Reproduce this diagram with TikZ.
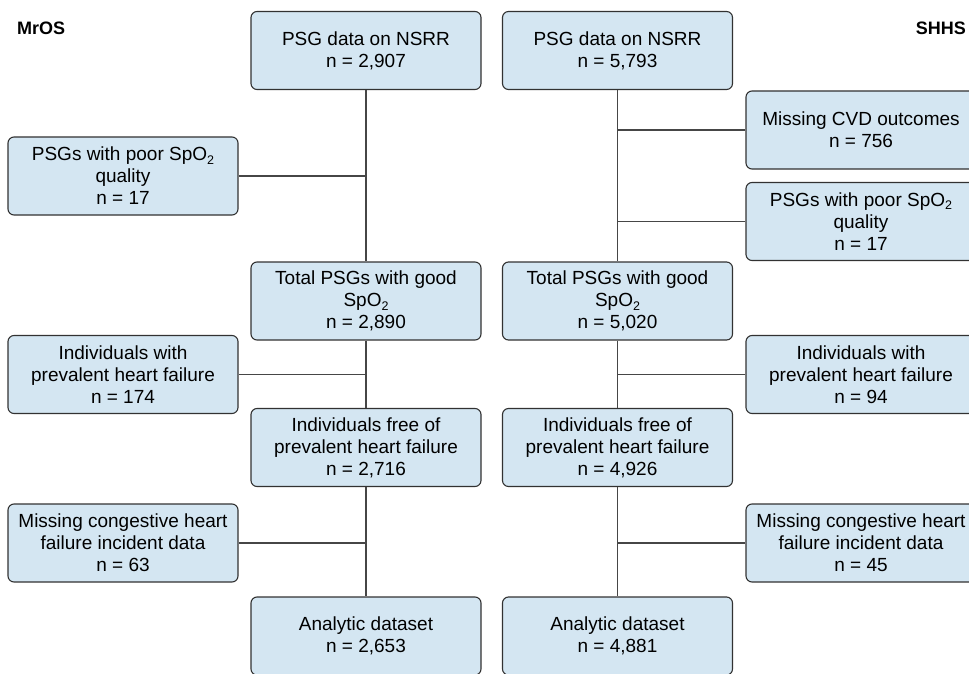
\documentclass[tikz,border=0pt]{standalone}
\usepackage{fontspec}
\setmainfont{Liberation Sans}
\definecolor{boxfill}{RGB}{212,230,242}
\definecolor{boxline}{RGB}{50,50,50}
\definecolor{conline}{RGB}{70,70,70}
\newcommand{\spo}{SpO\raisebox{-0.35ex}{\fontsize{12.5}{12.5}\selectfont 2}}
\tikzset{
  flowbox/.style={rectangle, rounded corners=6pt, draw=boxline, line width=1.1pt,
    fill=boxfill, minimum width=230pt, minimum height=78pt, inner sep=0pt,
    align=center, font=\fontsize{19}{22}\selectfont},
  conn/.style={draw=conline, line width=1.1pt},
  title/.style={font=\fontsize{18}{22}\selectfont\bfseries, inner sep=0pt}
}
\begin{document}
\begin{tikzpicture}[x=1pt,y=-1pt]
\useasboundingbox (0,0) rectangle (969,674);
\clip (0,0) rectangle (969,674);
\node[title, anchor=west] (mros) at (17,28) {MrOS};
\node[title, anchor=east] (shhs) at (966,28) {SHHS};
% left column
\node[flowbox] (l1) at (366,50.5) {PSG data on NSRR\\n = 2,907};
\node[flowbox] (l2) at (366,301) {Total PSGs with good\\\spo\\n = 2,890};
\node[flowbox] (l3) at (366,447.5) {Individuals free of\\prevalent heart failure\\n = 2,716};
\node[flowbox] (l4) at (366,636) {Analytic dataset\\n = 2,653};
\node[flowbox] (ls1) at (123,176) {PSGs with poor \spo\\quality\\n = 17};
\node[flowbox] (ls2) at (123,374.5) {Individuals with\\prevalent heart failure\\n = 174};
\node[flowbox] (ls3) at (123,543) {Missing congestive heart\\failure incident data\\n = 63};
% right column
\node[flowbox] (r1) at (617.5,50.5) {PSG data on NSRR\\n = 5,793};
\node[flowbox] (r2) at (617.5,301) {Total PSGs with good\\\spo\\n = 5,020};
\node[flowbox] (r3) at (617.5,447.5) {Individuals free of\\prevalent heart failure\\n = 4,926};
\node[flowbox] (r4) at (617.5,636) {Analytic dataset\\n = 4,881};
\node[flowbox] (rs1) at (861,130) {Missing CVD outcomes\\n = 756};
\node[flowbox] (rs2) at (861,221.5) {PSGs with poor \spo\\quality\\n = 17};
\node[flowbox] (rs3) at (861,374.5) {Individuals with\\prevalent heart failure\\n = 94};
\node[flowbox] (rs4) at (861,543) {Missing congestive heart\\failure incident data\\n = 45};
% vertical connectors
\draw[conn] (l1.south) -- (l2.north);
\draw[conn] (l2.south) -- (l3.north);
\draw[conn] (l3.south) -- (l4.north);
\draw[conn] (r1.south) -- (r2.north);
\draw[conn] (r2.south) -- (r3.north);
\draw[conn] (r3.south) -- (r4.north);
% side connectors
\draw[conn] (ls1.east) -- (ls1.east -| l1.south);
\draw[conn] (ls2.east) -- (ls2.east -| l1.south);
\draw[conn] (ls3.east) -- (ls3.east -| l1.south);
\draw[conn] (rs1.west) -- (rs1.west -| r1.south);
\draw[conn] (rs2.west) -- (rs2.west -| r1.south);
\draw[conn] (rs3.west) -- (rs3.west -| r1.south);
\draw[conn] (rs4.west) -- (rs4.west -| r1.south);
\end{tikzpicture}
\end{document}
